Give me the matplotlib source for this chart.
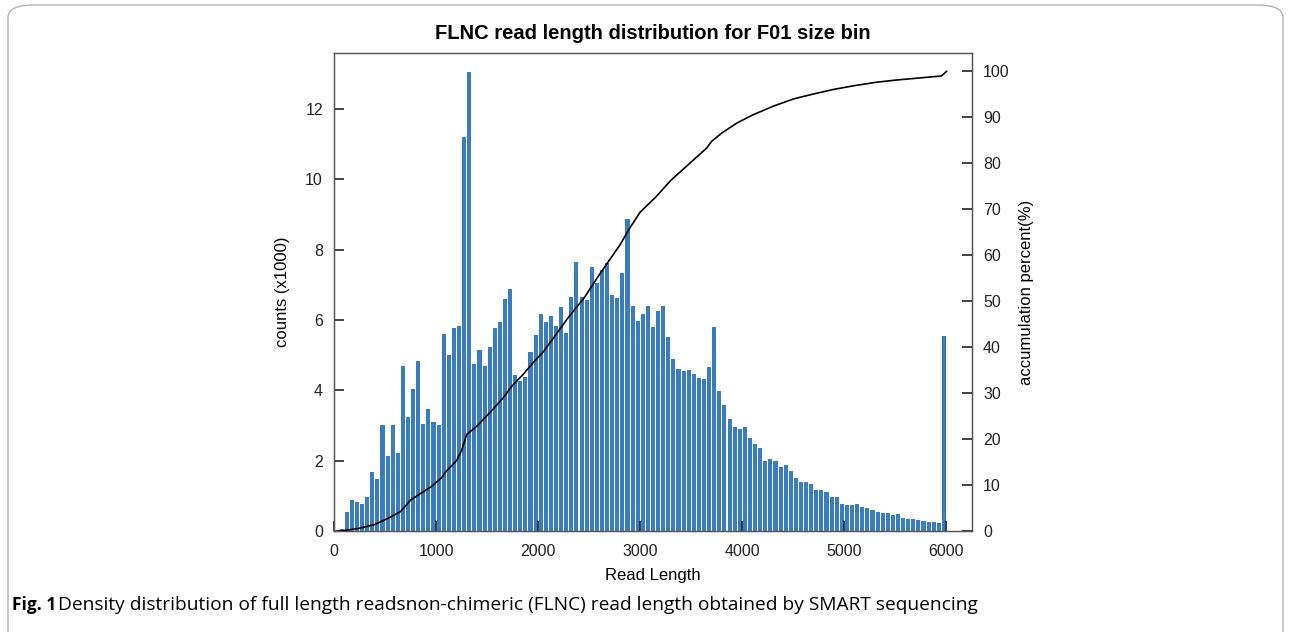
import matplotlib
matplotlib.use("Agg")
import matplotlib.pyplot as plt
from matplotlib.patches import FancyBboxPatch

plt.rcParams['font.family'] = ['Liberation Sans', 'DejaVu Sans']

# histogram bins (left edge, width 50) and counts in thousands
bin_start = list(range(50, 6000, 50))
counts = [0.05, 0.53, 0.87, 0.82, 0.78, 0.96, 1.68, 1.49, 3.00, 2.13,
          3.01, 2.23, 4.68, 3.25, 4.04, 4.82, 3.05, 3.48, 3.09, 3.02,
          5.60, 4.99, 5.78, 5.84, 11.20, 13.05, 4.75, 5.14, 4.69, 5.22,
          5.78, 5.94, 6.59, 6.88, 4.43, 4.26, 4.37, 5.09, 5.58, 6.18,
          5.95, 6.11, 5.83, 6.36, 5.63, 6.66, 7.65, 6.64, 6.58, 7.51,
          7.05, 7.43, 7.61, 6.70, 6.62, 7.34, 8.86, 6.39, 5.98, 6.18,
          6.39, 5.80, 6.26, 6.41, 5.51, 4.90, 4.61, 4.55, 4.58, 4.46,
          4.34, 4.31, 4.66, 5.79, 3.97, 3.58, 3.19, 2.96, 2.91, 2.95,
          2.65, 2.46, 2.35, 1.98, 2.04, 1.98, 1.83, 1.88, 1.71, 1.50,
          1.39, 1.38, 1.34, 1.17, 1.16, 1.12, 0.96, 0.96, 0.78, 0.73,
          0.73, 0.76, 0.68, 0.65, 0.59, 0.54, 0.50, 0.50, 0.45, 0.47,
          0.36, 0.35, 0.34, 0.31, 0.29, 0.27, 0.25, 0.23, 5.54]

# accumulation curve
acc_len = [50, 100, 250, 400, 550, 650, 750, 850, 950, 1050, 1100, 1200,
           1250, 1300, 1400, 1550, 1650, 1750, 1850, 1950, 2050, 2150,
           2300, 2450, 2600, 2800, 2900, 3000, 3150, 3300, 3500, 3650,
           3700, 3800, 3950, 4100, 4300, 4500, 4700, 4900, 5100, 5300,
           5500, 5700, 5900, 5950, 6000]
acc_pct = [0.0, 0.1, 0.6, 1.4, 3.0, 4.2, 6.7, 8.2, 9.6, 11.5, 13.0, 15.3,
           17.5, 21.0, 22.8, 26.3, 28.8, 31.7, 34.0, 36.6, 39.0, 42.0,
           46.6, 50.7, 55.8, 62.2, 66.0, 69.4, 72.6, 76.3, 80.3, 83.3,
           84.8, 86.6, 88.8, 90.5, 92.4, 94.0, 95.1, 96.1, 96.9, 97.6,
           98.1, 98.5, 98.9, 99.0, 100.0]

W, H = 1290, 632
fig = plt.figure(figsize=(W / 100, H / 100), dpi=100)

# page frame around figure + caption
frame = FancyBboxPatch((8 / W, -0.2), (1283 - 8) / W, (1 - 5 / H) + 0.2,
                       boxstyle="round,pad=0,rounding_size=0.02",
                       transform=fig.transFigure, fill=False,
                       edgecolor='#b0b0b0', linewidth=1.0)
fig.patches.append(frame)

ax = fig.add_axes([334 / W, 1 - 531 / H, (972 - 334) / W, (531 - 53) / H])
centers = [b + 25 for b in bin_start]
ax.bar(centers, counts, width=40, color='#3a7dbf', linewidth=0)
ax.set_xlim(0, 6250)
ax.set_ylim(0, 13.59)
ax.set_xticks(range(0, 7000, 1000))
ax.set_yticks(range(0, 14, 2))
ax.tick_params(direction='in', length=7, width=1.2, labelsize=11.5, colors='#222222')
ax.tick_params(axis='x', pad=9)
ax.tick_params(axis='y', pad=8)
for s in ax.spines.values():
    s.set_color('#555555')
    s.set_linewidth(1.0)
ax.set_xlabel('Read Length', fontsize=12, labelpad=7)
ax.set_ylabel('counts (x1000)', fontsize=12, labelpad=11)
ax.set_title('FLNC read length distribution for F01 size bin',
             fontsize=14.5, fontweight='bold', pad=10)

ax2 = ax.twinx()
ax2.plot(acc_len, acc_pct, color='black', linewidth=1.2)
ax2.set_ylim(0, 104)
ax2.set_yticks(range(0, 101, 10))
ax2.tick_params(direction='in', length=7, width=1.2, labelsize=11.5, pad=8, colors='#222222')
for s in ax2.spines.values():
    s.set_color('#555555')
ax2.set_ylabel('accumulation percent(%)', fontsize=12, labelpad=7)

# caption
cap_font = ['Open Sans', 'DejaVu Sans']
fig.text(12 / W, 1 - 605 / H, 'Fig. 1', fontsize=12.5, fontweight='bold',
         family=cap_font, va='center', ha='left')
fig.text(58 / W, 1 - 605 / H,
         'Density distribution of full length readsnon-chimeric (FLNC) read length obtained by SMART sequencing',
         fontsize=13.8, family=cap_font, va='center', ha='left')

fig.savefig('out.png', dpi=100)
